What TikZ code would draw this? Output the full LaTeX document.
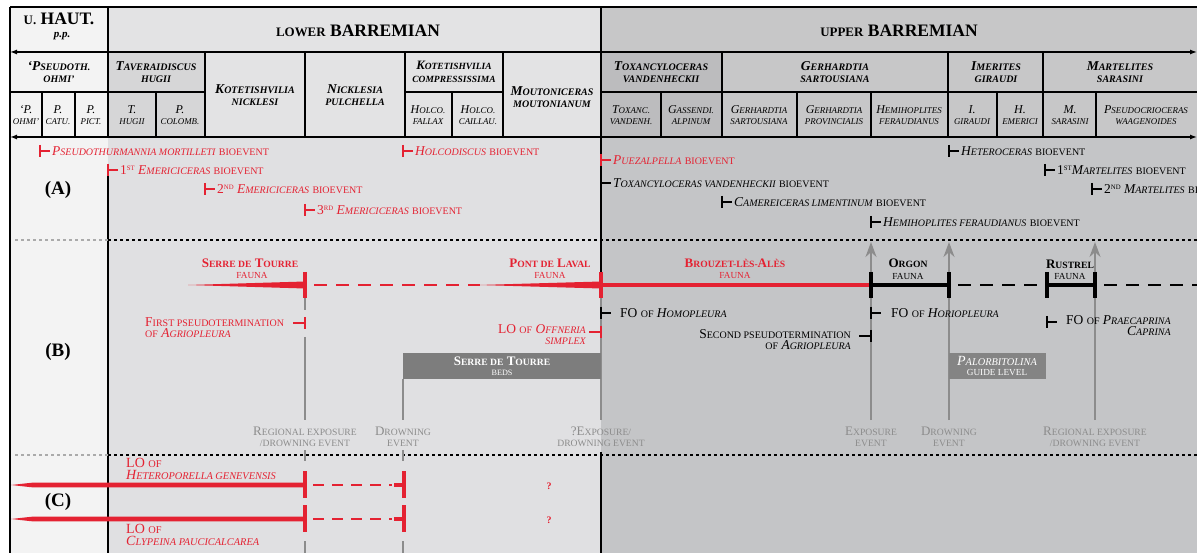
\documentclass[tikz,border=0pt]{standalone}
\usepackage{fontspec}
\setmainfont{Liberation Serif}
\usepackage{graphicx}
\usetikzlibrary{arrows.meta}
\definecolor{rd}{RGB}{228,34,50}
\definecolor{gtxt}{RGB}{140,140,140}
\definecolor{gline}{RGB}{140,140,140}
\definecolor{boxg}{RGB}{125,125,125}
\definecolor{leftc}{RGB}{243,243,243}
\definecolor{lowc}{RGB}{224,224,226}
\definecolor{upc}{RGB}{196,197,199}
\definecolor{hlow}{RGB}{227,227,228}
\definecolor{hup}{RGB}{199,199,200}
\definecolor{tav}{RGB}{214,214,215}
\definecolor{tox}{RGB}{188,188,190}
\definecolor{dotl}{RGB}{170,170,170}
\newcommand\sm[1]{\scalebox{0.74}{#1}}
\newcommand\ord[2]{#1\raisebox{3.5pt}{\scalebox{0.5}{#2}}}
\newcommand\tkR[3]{\draw[tk,#1] (#2,#3-6) -- (#2,#3+6) (#2,#3) -- (#2+10,#3);}
\newcommand\tkL[3]{\draw[tk,#1] (#2,#3-6) -- (#2,#3+6) (#2,#3) -- (#2-12,#3);}
\tikzset{
  every node/.style={inner sep=0pt},
  bev/.style={anchor=west, font=\fontsize{13.5}{13}\selectfont},
  hd1/.style={font=\bfseries\fontsize{17.5}{17}\selectfont},
  hd2/.style={align=center, font=\bfseries\itshape\fontsize{13.5}{12.5}\selectfont},
  hd3/.style={align=center, font=\itshape\fontsize{12}{11.5}\selectfont},
  evt/.style={align=center, text=gtxt, font=\fontsize{13}{11}\selectfont},
  fau/.style={font=\bfseries\fontsize{13}{12}\selectfont},
  fsub/.style={font=\fontsize{12.5}{10}\selectfont},
  lab/.style={font=\fontsize{13.5}{11.5}\selectfont},
  clab/.style={font=\fontsize{14}{12}\selectfont, text=rd, anchor=west},
  grid/.style={line width=1.3pt, black},
  tk/.style={line width=2pt},
  fat/.style={line width=3.5pt},
  dotted line/.style={line width=1.6pt, dash pattern=on 3pt off 3pt},
  evline/.style={gline, line width=1.8pt},
}
\begin{document}
\begin{tikzpicture}[x=1pt,y=-1pt]
\useasboundingbox (0,0) rectangle (1197,553);
\clip (0,0) rectangle (1197,553);
\fill[white] (0,0) rectangle (1197,553);
% body fills
\fill[leftc] (10,7) rectangle (108,553);
\fill[lowc] (108,137) rectangle (601,553);
\fill[upc] (601,137) rectangle (1197,553);
% header fills
\fill[hlow] (108,7) rectangle (601,52);
\fill[hup] (601,7) rectangle (1197,52);
\fill[tav] (108,52) rectangle (205,137);
\fill[hlow] (205,52) rectangle (601,137);
\fill[tox] (601,52) rectangle (722,137);
\fill[hup] (722,52) rectangle (1197,137);
% grid
\draw[grid] (10,7) -- (1197,7);
\draw[grid,{Latex[length=7pt,width=5pt]}-{Latex[length=7pt,width=5pt]}] (10,52) -- (1197,52);
\draw[grid,{Latex[length=7pt,width=5pt]}-{Latex[length=7pt,width=5pt]}] (10,137) -- (1197,137);
\draw[grid] (10,92) -- (205,92) (405,92) -- (503,92) (601,92) -- (1197,92);
\draw[grid] (10,7) -- (10,553);
\draw[grid] (108,7) -- (108,137);
\draw[grid] (601,7) -- (601,137);
\foreach \x in {205,305,405,503,722,948,1043} \draw[grid] (\x,52) -- (\x,137);
\foreach \x in {42,75,156,452,661,797,871,997,1096} \draw[grid] (\x,92) -- (\x,137);
\draw[grid] (108,164) -- (108,553);
\draw[grid] (601,137) -- (601,272);
\draw[grid] (601,452) -- (601,553);
% header row 1
\node[hd1] (uh) at (59,19) {\sm{U.} HAUT.};
\node[font=\bfseries\itshape\fontsize{11}{11}\selectfont] (pp) at (62,36) {p.p.};
\node[hd1] (lb) at (358,31) {\sm{LOWER} BARREMIAN};
\node[hd1] (ub) at (899,31) {\sm{UPPER} BARREMIAN};
% header row 2
\node[hd2] (h1) at (59,72) {‘P\sm{SEUDOTH.}\\\sm{OHMI’}};
\node[hd2] (h2) at (156,72) {T\sm{AVERAIDISCUS}\\\sm{HUGII}};
\node[hd2] (h3) at (255,95) {K\sm{OTETISHVILIA}\\\sm{NICKLESI}};
\node[hd2] (h4) at (355,95) {N\sm{ICKLESIA}\\\sm{PULCHELLA}};
\node[hd2,font=\bfseries\itshape\fontsize{12.8}{12.5}\selectfont] (h5) at (454,72) {K\sm{OTETISHVILIA}\\\sm{COMPRESSISSIMA}};
\node[hd2] (h6) at (552,97) {M\sm{OUTONICERAS}\\\sm{MOUTONIANUM}};
\node[hd2] (h7) at (661,72) {T\sm{OXANCYLOCERAS}\\\sm{VANDENHECKII}};
\node[hd2] (h8) at (835,72) {G\sm{ERHARDTIA}\\\sm{SARTOUSIANA}};
\node[hd2] (h9) at (996,72) {I\sm{MERITES}\\\sm{GIRAUDI}};
\node[hd2] (h10) at (1120,72) {M\sm{ARTELITES}\\\sm{SARASINI}};
% header row 3
\node[hd3] (s1) at (26,115) {‘P.\\\sm{OHMI’}};
\node[hd3] (s2) at (58,115) {P.\\\sm{CATU.}};
\node[hd3] (s3) at (91,115) {P.\\\sm{PICT.}};
\node[hd3] (s4) at (132,115) {T.\\\sm{HUGII}};
\node[hd3] (s5) at (180,115) {P.\\\sm{COLOMB.}};
\node[hd3] (s6) at (428,115) {H\sm{OLCO.}\\\sm{FALLAX}};
\node[hd3] (s7) at (478,115) {H\sm{OLCO.}\\\sm{CAILLAU.}};
\node[hd3] (s8) at (631,115) {T\sm{OXANC.}\\\sm{VANDENH.}};
\node[hd3] (s9) at (691,115) {G\sm{ASSENDI.}\\\sm{ALPINUM}};
\node[hd3] (s10) at (759,115) {G\sm{ERHARDTIA}\\\sm{SARTOUSIANA}};
\node[hd3] (s11) at (834,115) {G\sm{ERHARDTIA}\\\sm{PROVINCIALIS}};
\node[hd3] (s12) at (909,115) {H\sm{EMIHOPLITES}\\\sm{FERAUDIANUS}};
\node[hd3] (s13) at (972,115) {I.\\\sm{GIRAUDI}};
\node[hd3] (s14) at (1020,115) {H.\\\sm{EMERICI}};
\node[hd3] (s15) at (1070,115) {M.\\\sm{SARASINI}};
\node[hd3] (s16) at (1146,115) {P\sm{SEUDOCRIOCERAS}\\\sm{WAAGENOIDES}};
% separators
\draw[dotl, dotted line] (15,240) -- (108,240);
\draw[dotted line] (108,240) -- (1197,240);
\draw[dotl, dotted line] (15,455) -- (108,455);
\draw[dotted line] (108,455) -- (1197,455);
% section labels
\node[font=\bfseries\fontsize{19}{19}\selectfont] (la) at (58,190) {(A)};
\node[font=\bfseries\fontsize{19}{19}\selectfont] (lbb) at (58,352) {(B)};
\node[font=\bfseries\fontsize{19}{19}\selectfont] (lc) at (58,502) {(C)};
% (A) bioevents
\tkR{rd}{40}{151}
\node[bev,text=rd] (b1) at (52,151) {\textit{P\sm{SEUDOTHURMANNIA MORTILLETI}} \sm{BIOEVENT}};
\tkR{rd}{108}{170}
\node[bev,text=rd] (b2) at (120,170) {\ord{1}{ST} \textit{E\sm{MERICICERAS}} \sm{BIOEVENT}};
\tkR{rd}{205}{189}
\node[bev,text=rd] (b3) at (217,189) {\ord{2}{ND} \textit{E\sm{MERICICERAS}} \sm{BIOEVENT}};
\tkR{rd}{305}{210}
\node[bev,text=rd] (b4) at (317,210) {\ord{3}{RD} \textit{E\sm{MERICICERAS}} \sm{BIOEVENT}};
\tkR{rd}{403}{151}
\node[bev,text=rd] (b5) at (415,151) {\textit{H\sm{OLCODISCUS}} \sm{BIOEVENT}};
\tkR{rd}{601}{160}
\node[bev,text=rd] (b6) at (613,160) {\textit{P\sm{UEZALPELLA}} \sm{BIOEVENT}};
\tkR{black}{601}{183}
\node[bev] (b7) at (613,183) {\textit{T\sm{OXANCYLOCERAS VANDENHECKII}} \sm{BIOEVENT}};
\tkR{black}{722}{202}
\node[bev] (b8) at (734,202) {\textit{C\sm{AMEREICERAS LIMENTINUM}} \sm{BIOEVENT}};
\tkR{black}{871}{222}
\node[bev] (b9) at (883,222) {\textit{H\sm{EMIHOPLITES FERAUDIANUS}} \sm{BIOEVENT}};
\tkR{black}{949}{151}
\node[bev] (b10) at (961,151) {\textit{H\sm{ETEROCERAS}} \sm{BIOEVENT}};
\tkR{black}{1045}{170}
\node[bev] (b11) at (1057,170) {\ord{1}{ST}\textit{M\sm{ARTELITES}} \sm{BIOEVENT}};
\tkR{black}{1092}{189}
\node[bev] (b12) at (1104,189) {\ord{2}{ND} \textit{M\sm{ARTELITES}} \sm{BIOEVENT}};
% (B) event lines
\draw[evline] (305,296) -- (305,310);
\draw[evline] (305,337) -- (305,420);
\draw[evline] (403,379) -- (403,420);
\draw[evline] (601,298) -- (601,420);
\draw[evline,-{Stealth[length=15pt,width=11pt]}] (871,420) -- (871,242);
\draw[evline,-{Stealth[length=15pt,width=11pt]}] (949,420) -- (949,242);
\draw[evline,-{Stealth[length=15pt,width=11pt]}] (1095,420) -- (1095,242);
% boxes
\fill[boxg] (403,353) rectangle (601,379);
\node[font=\bfseries\fontsize{13}{13}\selectfont, text=white] (stb) at (502,361) {S\sm{ERRE DE} T\sm{OURRE}};
\node[font=\fontsize{11}{11}\selectfont, text=white] (stb2) at (502,373) {\sm{BEDS}};
\fill[boxg!95!white] (949,353) rectangle (1046,379);
\node[font=\itshape\fontsize{14}{14}\selectfont, text=white] (pal) at (997,361) {P\sm{ALORBITOLINA}};
\node[font=\fontsize{12.5}{12}\selectfont, text=white] (pal2) at (997,373) {\sm{GUIDE LEVEL}};
% red faunas
\fill[rd] (188,285) -- (305,281.5) -- (305,288.5) -- cycle;
\draw[rd,fat] (305,272) -- (305,298);
\draw[rd, line width=2.5pt, dash pattern=on 13pt off 9pt] (314,285) -- (480,285);
\fill[rd] (478,285) -- (601,281.5) -- (601,288.5) -- cycle;
\draw[rd,fat] (601,272) -- (601,298);
\draw[rd,fat] (601,285) -- (871,285);
% black faunas
\draw[black,fat] (871,285) -- (949,285);
\draw[black, line width=2.5pt, dash pattern=on 13pt off 9pt] (958,285) -- (1040,285);
\draw[black,fat] (1047,285) -- (1095,285);
\draw[black, line width=2.5pt, dash pattern=on 13pt off 9pt] (1104,285) -- (1197,285);
\foreach \x in {871,949,1047,1095} \draw[black,fat] (\x,272) -- (\x,298);
% fauna labels
\node[fau,text=rd] (f1) at (250,263) {S\sm{ERRE DE} T\sm{OURRE}};
\node[fsub,text=rd] (f1b) at (252,275) {\sm{FAUNA}};
\node[fau,text=rd] (f2) at (550,263) {P\sm{ONT DE} L\sm{AVAL}};
\node[fsub,text=rd] (f2b) at (550,275) {\sm{FAUNA}};
\node[fau,text=rd] (f3) at (735,263) {B\sm{ROUZET-LÈS-}A\sm{LÈS}};
\node[fsub,text=rd] (f3b) at (735,275) {\sm{FAUNA}};
\node[fau] (f4) at (908,263) {O\sm{RGON}};
\node[fsub] (f4b) at (908,276) {\sm{FAUNA}};
\node[fau] (f5) at (1070,264) {R\sm{USTREL}};
\node[fsub] (f5b) at (1070,276) {\sm{FAUNA}};
% (B) first/last occurrences
\tkL{rd}{305}{323}
\node[lab,text=rd,align=left,anchor=north west] (p1) at (145,317) {F\sm{IRST PSEUDOTERMINATION}\\\sm{OF} \textit{A\sm{GRIOPLEURA}}};
\tkL{rd}{601}{332}
\node[lab,text=rd,align=right,anchor=north east] (p2) at (586,324) {LO \sm{OF} \textit{O\sm{FFNERIA}}\\\textit{\sm{SIMPLEX}}};
\tkR{black}{601}{313}
\node[lab,anchor=west] (p3) at (620,313) {FO \sm{OF} \textit{H\sm{OMOPLEURA}}};
\tkR{black}{871}{313}
\node[lab,anchor=west] (p4) at (891,313) {FO \sm{OF} \textit{H\sm{ORIOPLEURA}}};
\tkL{black}{871}{336}
\node[lab,align=right,anchor=north east] (p5) at (851,329) {S\sm{ECOND PSEUDOTERMINATION}\\\sm{OF} \textit{A\sm{GRIOPLEURA}}};
\tkR{black}{1047}{322}
\node[lab,align=right,anchor=north west] (p6) at (1066,315) {FO \sm{OF} \textit{P\sm{RAECAPRINA}}\\\textit{C\sm{APRINA}}};
% event labels
\node[evt] (e1) at (305,437) {R\sm{EGIONAL EXPOSURE}\\\sm{/DROWNING EVENT}};
\node[evt] (e2) at (403,437) {D\sm{ROWNING}\\\sm{EVENT}};
\node[evt] (e3) at (601,437) {?E\sm{XPOSURE/}\\\sm{DROWNING EVENT}};
\node[evt] (e4) at (871,437) {E\sm{XPOSURE}\\\sm{EVENT}};
\node[evt] (e5) at (949,437) {D\sm{ROWNING}\\\sm{EVENT}};
\node[evt] (e6) at (1095,437) {R\sm{EGIONAL EXPOSURE}\\\sm{/DROWNING EVENT}};
% (C)
\foreach \x in {305,403} {
  \draw[gline, line width=1.5pt] (\x,450) -- (\x,461);
  \draw[gline, line width=1.5pt] (\x,541) -- (\x,553);
}
\foreach \y in {485,519} {
  \fill[rd] (11,\y) -- (32,\y-2.3) -- (305,\y-2.3) -- (305,\y+2.3) -- (32,\y+2.3) -- cycle;
  \draw[rd,fat] (305,\y-14) -- (305,\y+13);
  \draw[rd, line width=2.5pt, dash pattern=on 11pt off 8pt] (313,\y) -- (392,\y);
  \draw[rd,fat] (394,\y) -- (404,\y);
  \draw[rd,fat] (404,\y-14) -- (404,\y+13);
  \node[text=rd, font=\bfseries\fontsize{10}{10}\selectfont] at (549,\y+1) {?};
}
\node[clab] (c1) at (126,463) {LO \sm{OF}};
\node[clab] (c2) at (126,475) {\textit{H\sm{ETEROPORELLA GENEVENSIS}}};
\node[clab] (c3) at (126,529) {LO \sm{OF}};
\node[clab] (c4) at (126,541) {\textit{C\sm{LYPEINA PAUCICALCAREA}}};
\end{tikzpicture}
\end{document}
